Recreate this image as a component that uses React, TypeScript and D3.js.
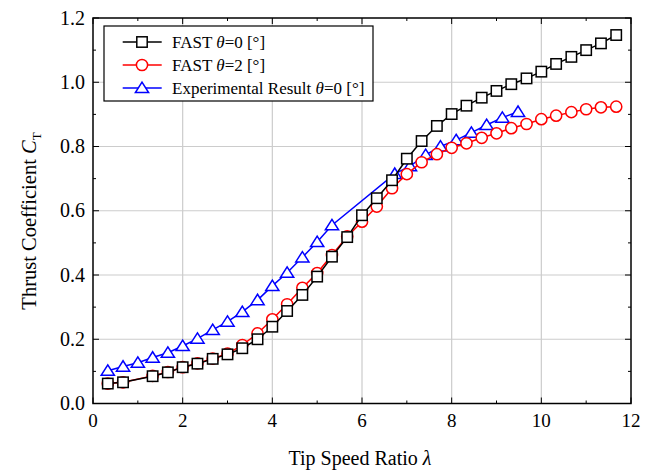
import React from "react";
import * as d3 from "d3";

const lambdaFast = [0.33, 0.67, 1.33, 1.67, 2.0, 2.33, 2.67, 3.0, 3.33, 3.67, 4.0, 4.33, 4.67, 5.0, 5.33, 5.67, 6.0, 6.33, 6.67, 7.0, 7.33, 7.67, 8.0, 8.33, 8.67, 9.0, 9.33, 9.67, 10.0, 10.33, 10.67, 11.0, 11.33, 11.67];
const ctFast0 = [0.062, 0.066, 0.085, 0.097, 0.113, 0.124, 0.139, 0.153, 0.172, 0.2, 0.239, 0.288, 0.338, 0.395, 0.457, 0.518, 0.586, 0.639, 0.695, 0.762, 0.817, 0.864, 0.901, 0.927, 0.952, 0.973, 0.994, 1.012, 1.033, 1.057, 1.079, 1.1, 1.121, 1.147];
const ctFast2 = [0.062, 0.066, 0.086, 0.098, 0.113, 0.125, 0.14, 0.155, 0.182, 0.218, 0.262, 0.309, 0.36, 0.406, 0.462, 0.52, 0.566, 0.613, 0.67, 0.714, 0.751, 0.776, 0.796, 0.81, 0.827, 0.841, 0.857, 0.87, 0.885, 0.896, 0.907, 0.916, 0.922, 0.924];
const lambdaExp = [0.33, 0.67, 1.0, 1.33, 1.67, 2.0, 2.33, 2.67, 3.0, 3.33, 3.67, 4.0, 4.33, 4.67, 5.0, 5.33, 6.73, 7.07, 7.42, 7.75, 8.1, 8.44, 8.78, 9.13, 9.48];
const ctExp = [0.102, 0.115, 0.127, 0.143, 0.158, 0.179, 0.202, 0.229, 0.255, 0.285, 0.322, 0.366, 0.407, 0.455, 0.503, 0.555, 0.715, 0.739, 0.774, 0.8, 0.82, 0.843, 0.867, 0.89, 0.908];

const xTicks = [0, 2, 4, 6, 8, 10, 12];
const xMinor = [1, 3, 5, 7, 9, 11];
const yTicks = [0, 0.2, 0.4, 0.6, 0.8, 1.0, 1.2];
const yMinor = [0.1, 0.3, 0.5, 0.7, 0.9, 1.1];

const FONT = "'Liberation Serif', 'Times New Roman', serif";

const L = 93, R = 631, T = 18, B = 403.5;

const x = d3.scaleLinear().domain([0, 12]).range([L, R]);
const y = d3.scaleLinear().domain([0, 1.2]).range([B, T]);

const line = d3.line<[number, number]>().x((d) => x(d[0])).y((d) => y(d[1]));

const tri = "M0,-5.8L6.6,4.6L-6.6,4.6Z";

function Square({ cx, cy }: { cx: number; cy: number }) {
  return <rect x={cx - 5.2} y={cy - 5.2} width={10.4} height={10.4} fill="#fff" stroke="#000" strokeWidth={1.5} />;
}
function Circle({ cx, cy }: { cx: number; cy: number }) {
  return <circle cx={cx} cy={cy} r={5.6} fill="#fff" stroke="#ff0000" strokeWidth={1.5} />;
}
function Tri({ cx, cy }: { cx: number; cy: number }) {
  return <path d={tri} transform={`translate(${cx},${cy})`} fill="#fff" stroke="#0000ff" strokeWidth={1.5} />;
}

export default function App() {
  const d0 = lambdaFast.map((l, i) => [l, ctFast0[i]] as [number, number]);
  const d2 = lambdaFast.map((l, i) => [l, ctFast2[i]] as [number, number]);
  const de = lambdaExp.map((l, i) => [l, ctExp[i]] as [number, number]);
  const leg = { x0: 104, y0: 26, x1: 373, y1: 101 };
  const rows = [42, 65, 88];
  return (
    <div style={{ position: "fixed", left: 0, top: 0 }}>
      <svg width={658} height={470} style={{ display: "block", background: "#fff" }} fontFamily={FONT}>
        {xTicks.slice(1, -1).map((t) => (
          <line key={"gx" + t} x1={x(t)} x2={x(t)} y1={T} y2={B} stroke="#cccccc" strokeWidth={1.2} />
        ))}
        {yTicks.slice(1, -1).map((t) => (
          <line key={"gy" + t} x1={L} x2={R} y1={y(t)} y2={y(t)} stroke="#cccccc" strokeWidth={1.2} />
        ))}
        {xTicks.map((t) => (
          <g key={"tx" + t}>
            <line x1={x(t)} x2={x(t)} y1={B} y2={B - 6} stroke="#000" strokeWidth={1} />
            <line x1={x(t)} x2={x(t)} y1={T} y2={T + 6} stroke="#000" strokeWidth={1} />
          </g>
        ))}
        {xMinor.map((t) => (
          <g key={"mx" + t}>
            <line x1={x(t)} x2={x(t)} y1={B} y2={B - 3} stroke="#000" strokeWidth={1} />
            <line x1={x(t)} x2={x(t)} y1={T} y2={T + 3} stroke="#000" strokeWidth={1} />
          </g>
        ))}
        {yTicks.map((t) => (
          <g key={"ty" + t}>
            <line x1={L} x2={L + 6} y1={y(t)} y2={y(t)} stroke="#000" strokeWidth={1} />
            <line x1={R} x2={R - 6} y1={y(t)} y2={y(t)} stroke="#000" strokeWidth={1} />
          </g>
        ))}
        {yMinor.map((t) => (
          <g key={"my" + t}>
            <line x1={L} x2={L + 3} y1={y(t)} y2={y(t)} stroke="#000" strokeWidth={1} />
            <line x1={R} x2={R - 3} y1={y(t)} y2={y(t)} stroke="#000" strokeWidth={1} />
          </g>
        ))}
        <path d={line(de) || ""} fill="none" stroke="#0000ff" strokeWidth={1.5} />
        {de.map((d, i) => (
          <Tri key={"e" + i} cx={x(d[0])} cy={y(d[1])} />
        ))}
        <path d={line(d2) || ""} fill="none" stroke="#ff0000" strokeWidth={1.5} />
        {d2.map((d, i) => (
          <Circle key={"r" + i} cx={x(d[0])} cy={y(d[1])} />
        ))}
        <path d={line(d0) || ""} fill="none" stroke="#000" strokeWidth={1.5} />
        {d0.map((d, i) => (
          <Square key={"b" + i} cx={x(d[0])} cy={y(d[1])} />
        ))}
        <rect x={L} y={T} width={R - L} height={B - T} fill="none" stroke="#000" strokeWidth={1.5} />
        {xTicks.map((t) => (
          <text key={"lx" + t} x={x(t)} y={427} fontSize={19} textAnchor="middle" fill="#000">
            {t}
          </text>
        ))}
        {yTicks.map((t) => (
          <text key={"ly" + t} x={85} y={y(t) + 6.5} fontSize={20} textAnchor="end" fill="#000">
            {t.toFixed(1)}
          </text>
        ))}
        <text x={360} y={465} fontSize={20} textAnchor="middle" fill="#000">
          Tip Speed Ratio <tspan fontStyle="italic">λ</tspan>
        </text>
        <text transform="translate(36,221) rotate(-90)" fontSize={20.5} textAnchor="middle" fill="#000">
          Thrust Coefficient <tspan fontStyle="italic">C</tspan>
          <tspan fontSize={13} dy={5}>T</tspan>
        </text>
        <rect x={leg.x0} y={leg.y0} width={leg.x1 - leg.x0} height={leg.y1 - leg.y0} fill="#fff" stroke="#000" strokeWidth={1.2} />
        <line x1={122.7} x2={161.7} y1={rows[0]} y2={rows[0]} stroke="#000" strokeWidth={1.5} />
        <Square cx={142} cy={rows[0]} />
        <line x1={122.7} x2={161.7} y1={rows[1]} y2={rows[1]} stroke="#ff0000" strokeWidth={1.5} />
        <Circle cx={142} cy={rows[1]} />
        <line x1={122.7} x2={161.7} y1={rows[2]} y2={rows[2]} stroke="#0000ff" strokeWidth={1.5} />
        <Tri cx={142} cy={rows[2]} />
        <text x={172} y={rows[0] + 6} fontSize={17} fill="#000">
          FAST <tspan fontStyle="italic">θ</tspan>=0 [°]
        </text>
        <text x={172} y={rows[1] + 6} fontSize={17} fill="#000">
          FAST <tspan fontStyle="italic">θ</tspan>=2 [°]
        </text>
        <text x={172} y={rows[2] + 6} fontSize={17} fill="#000">
          Experimental Result <tspan fontStyle="italic">θ</tspan>=0 [°]
        </text>
      </svg>
    </div>
  );
}
